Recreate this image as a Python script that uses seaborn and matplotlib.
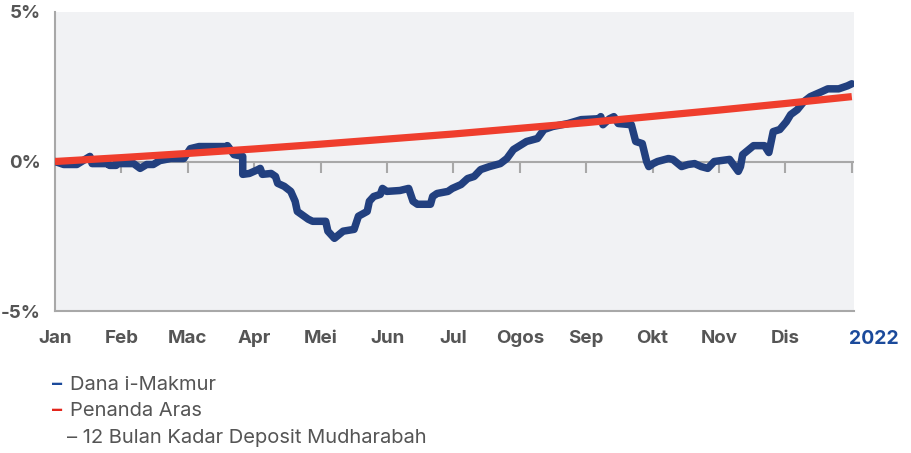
import matplotlib
matplotlib.use("Agg")
import matplotlib.pyplot as plt
import numpy as np
import pandas as pd
import seaborn as sns

# hari dalam tahun 2022 (0 = 1 Jan) dan pulangan kumulatif (%)
fund_days = [0, 4, 10, 16, 17, 24, 25, 28, 28, 36, 39, 42, 45, 48, 53, 59, 62, 66, 79, 79,
             82, 86, 86, 89, 93, 94, 95, 99, 101, 102, 105, 108, 110, 111, 116, 118, 124, 125, 128, 132,
             137, 139, 143, 144, 146, 149, 150, 152, 158, 162, 164, 166, 172, 173, 175, 180, 182, 186, 189, 192,
             195, 199, 204, 207, 210, 216, 221, 224, 228, 235, 241, 249, 250, 251, 254, 256, 258, 264, 266, 269,
             271, 272, 274, 276, 281, 283, 287, 290, 293, 296, 299, 302, 309, 313, 314, 315, 320, 325, 327, 329,
             332, 335, 337, 340, 343, 346, 351, 354, 359, 363, 365]
fund_ret = [0.00, -0.10, -0.10, 0.17, -0.07, -0.07, -0.13, -0.13, -0.07, -0.07, -0.23, -0.10, -0.10, 0.03, 0.10, 0.10, 0.43, 0.50, 0.50, 0.53,
            0.23, 0.17, -0.43, -0.40, -0.27, -0.23, -0.43, -0.40, -0.50, -0.73, -0.83, -1.00, -1.33, -1.67, -1.93, -2.00, -2.00, -2.33, -2.57, -2.33,
            -2.27, -1.83, -1.67, -1.33, -1.17, -1.10, -0.90, -1.00, -0.97, -0.90, -1.33, -1.43, -1.43, -1.17, -1.07, -1.00, -0.90, -0.77, -0.57, -0.50,
            -0.27, -0.17, -0.07, 0.10, 0.40, 0.67, 0.77, 1.07, 1.17, 1.27, 1.40, 1.43, 1.50, 1.23, 1.43, 1.50, 1.27, 1.23, 0.67, 0.60,
            0.00, -0.17, -0.07, 0.00, 0.10, 0.07, -0.17, -0.10, -0.07, -0.17, -0.23, 0.00, 0.07, -0.33, -0.17, 0.23, 0.53, 0.53, 0.30, 1.00,
            1.07, 1.33, 1.57, 1.73, 2.00, 2.17, 2.33, 2.43, 2.43, 2.53, 2.60]

bench_days = [0, 30.4, 60.8, 91.3, 121.7, 152.1, 182.5, 212.9, 243.3, 273.8, 304.2, 334.6, 365]
bench_ret = [0.00, 0.13, 0.27, 0.42, 0.58, 0.75, 0.92, 1.11, 1.30, 1.51, 1.72, 1.94, 2.17]

months = ["Jan", "Feb", "Mac", "Apr", "Mei", "Jun", "Jul", "Ogos", "Sep", "Okt", "Nov", "Dis"]
y_ticks = [-5, 0, 5]
y_labels = ["-5%", "0%", "5%"]

fund = pd.DataFrame({"hari": fund_days, "pulangan": fund_ret})
bench = pd.DataFrame({"hari": bench_days, "pulangan": bench_ret})

sns.set_style("white")
plt.rcParams["font.family"] = ["Inter", "DejaVu Sans"]

blue = "#22407f"
red = "#ef3e2d"
grey_txt = "#555555"
grey_ln = "#a8a8a8"

fig = plt.figure(figsize=(9.11, 4.53), dpi=100)
ax = fig.add_axes([55 / 911, 1 - 311 / 453, 799 / 911, 299 / 453])
ax.set_facecolor("#f1f2f4")

tick_pos = [i * 365 / 12 for i in range(13)]

# garis sifar dengan tanda bulan
ax.axhline(0, color=grey_ln, lw=1.5, zorder=1)
ax.vlines(tick_pos[1:], -0.4, 0, color=grey_ln, lw=1.5, zorder=1)

sns.lineplot(data=fund, x="hari", y="pulangan", color=blue, lw=5.4, ax=ax,
             estimator=None, sort=False,
             solid_joinstyle="round", solid_capstyle="round", zorder=3)
sns.lineplot(data=bench, x="hari", y="pulangan", color=red, lw=5.2, ax=ax,
             estimator=None, sort=False, solid_capstyle="butt", zorder=4)

ax.set_xlim(0, 366)
ax.set_ylim(-5, 5)
ax.set_xlabel("")
ax.set_ylabel("")

ax.set_xticks(tick_pos)
ax.set_xticklabels(months + [""])
ax.set_yticks(y_ticks)
ax.set_yticklabels(y_labels)

for s in ["top", "right"]:
    ax.spines[s].set_visible(False)
for s in ["left", "bottom"]:
    ax.spines[s].set_color(grey_ln)
    ax.spines[s].set_linewidth(1.5)

ax.tick_params(axis="x", direction="out", length=12, width=1.5, color=grey_ln,
               labelsize=13.5, labelcolor=grey_txt, pad=2)
ax.tick_params(axis="y", direction="out", length=6, width=1.5, color=grey_ln,
               labelsize=13.5, labelcolor=grey_txt, pad=4)
for lbl in ax.get_xticklabels() + ax.get_yticklabels():
    lbl.set_fontweight("bold")

ax.text(363.5, -5.65, "2022", ha="left", va="top",
        fontsize=14, fontweight="bold", color="#1b4a9b")

# legenda
fs = 14.5
fig.text(52 / 911, 1 - 385 / 453, "–", color="#1b4a9b", fontsize=fs, va="center", fontweight="bold")
fig.text(70 / 911, 1 - 385 / 453, "Dana i-Makmur", color=grey_txt, fontsize=fs, va="center")
fig.text(52 / 911, 1 - 411 / 453, "–", color="#e3261c", fontsize=fs, va="center", fontweight="bold")
fig.text(70 / 911, 1 - 411 / 453, "Penanda Aras", color=grey_txt, fontsize=fs, va="center")
fig.text(67 / 911, 1 - 438 / 453, "– 12 Bulan Kadar Deposit Mudharabah", color=grey_txt,
         fontsize=fs, va="center")

fig.savefig("out.png", dpi=100, facecolor="white")
